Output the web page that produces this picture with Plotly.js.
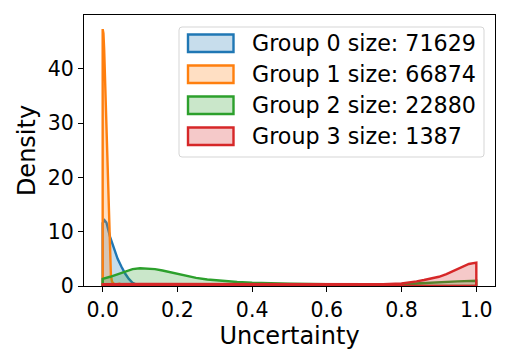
<!DOCTYPE html>
<html>
<head>
<meta charset="utf-8">
<script src="https://cdn.plot.ly/plotly-3.0.1.min.js"></script>
<style>
  html, body { margin: 0; padding: 0; background: #fff; }
  #chart { width: 509px; height: 360px; }
</style>
</head>
<body>
<div id="chart"></div>
<script>
// KDE of uncertainty per group
const groupNames = ['Group 0', 'Group 1', 'Group 2', 'Group 3'];
const groupSizes = [71629, 66874, 22880, 1387];
const groupColors = ['#1f77b4', '#ff7f0e', '#2ca02c', '#d62728'];

const x0 = [0, 0.005, 0.01, 0.02, 0.03, 0.04, 0.05, 0.06, 0.07, 0.08, 0.09, 0.1, 0.12, 0.15, 0.2];
const y0 = [11.6, 12.1, 11.7, 9.0, 6.8, 5.0, 3.6, 2.3, 1.3, 0.6, 0.25, 0.1, 0.03, 0.01, 0];

const x1 = [0, 0.002, 0.004, 0.006, 0.008, 0.01, 0.012, 0.014, 0.016, 0.018, 0.02, 0.022, 0.025,
            0.03, 0.035, 0.04, 0.045, 0.05, 0.055, 0.06, 0.07, 0.08];
const y1 = [47.3, 46.5, 43.5, 39.0, 33.5, 27.5, 22.0, 17.0, 12.0, 8.0, 4.5, 2.0, 0.8,
            0.4, 0.3, 0.4, 0.4, 0.3, 0.2, 0.1, 0.03, 0];

const x2 = [0, 0.02, 0.04, 0.06, 0.08, 0.1, 0.12, 0.14, 0.16, 0.18, 0.2, 0.22, 0.25, 0.28, 0.32,
            0.36, 0.4, 0.45, 0.5, 0.6, 0.7, 0.8, 0.85, 0.9, 0.95, 1.0];
const y2 = [1.3, 1.7, 2.2, 2.7, 3.1, 3.27, 3.25, 3.1, 2.85, 2.55, 2.15, 1.85, 1.5, 1.2, 0.95,
            0.75, 0.6, 0.5, 0.42, 0.35, 0.33, 0.38, 0.5, 0.7, 0.85, 0.95];

const x3 = [0, 0.1, 0.2, 0.3, 0.4, 0.5, 0.6, 0.7, 0.75, 0.8, 0.82, 0.84, 0.86, 0.88, 0.9,
            0.92, 0.94, 0.96, 0.98, 1.0];
const y3 = [0.35, 0.38, 0.38, 0.35, 0.32, 0.3, 0.3, 0.3, 0.33, 0.45, 0.6, 0.85, 1.1, 1.4, 1.7,
            2.2, 2.8, 3.5, 4.05, 4.3];

const seriesX = [x0, x1, x2, x3];
const seriesY = [y0, y1, y2, y3];

function rgba(hex, a) {
  const n = parseInt(hex.slice(1), 16);
  return `rgba(${(n >> 16) & 255},${(n >> 8) & 255},${n & 255},${a})`;
}

const FONT = 'DejaVu Sans, sans-serif';

// closed polygon like fill_between with an edge
const traces = seriesX.map((xs, i) => {
  const ys = seriesY[i];
  return {
    x: [xs[0], ...xs, xs[xs.length - 1], xs[0]],
    y: [0, ...ys, 0, 0],
    type: 'scatter',
    mode: 'lines',
    fill: 'toself',
    fillcolor: rgba(groupColors[i], 0.25),
    line: { color: groupColors[i], width: 2.4 },
    name: `${groupNames[i]} size: ${groupSizes[i]}`,
    hoverinfo: 'skip',
  };
});

// plot area in pixels
const M = { l: 84, r: 14, t: 15, b: 74 };
const W = 509, H = 360;
const PW = W - M.l - M.r, PH = H - M.t - M.b;
const px = p => (p - M.l) / PW;
const py = p => (H - M.b - p) / PH;

// hand-drawn legend to get matplotlib-style patches
const shapes = [];
const annotations = [];
{
  const bx0 = px(179), bx1 = px(484), by0 = py(157), by1 = py(27);
  const rx = 3 / PW, ry = 3 / PH;
  shapes.push({
    type: 'path', xref: 'paper', yref: 'paper',
    path: `M ${bx0 + rx},${by1} L ${bx1 - rx},${by1} Q ${bx1},${by1} ${bx1},${by1 - ry} ` +
          `L ${bx1},${by0 + ry} Q ${bx1},${by0} ${bx1 - rx},${by0} L ${bx0 + rx},${by0} ` +
          `Q ${bx0},${by0} ${bx0},${by0 + ry} L ${bx0},${by1 - ry} Q ${bx0},${by1} ${bx0 + rx},${by1} Z`,
    fillcolor: 'rgba(255,255,255,0.8)',
    line: { color: '#d5d5d5', width: 1 },
    layer: 'above',
  });
  groupNames.forEach((g, i) => {
    const top = 34.5 + i * 31, bot = 52 + i * 31;
    shapes.push({
      type: 'rect', xref: 'paper', yref: 'paper',
      x0: px(188), x1: px(233.5), y0: py(bot), y1: py(top),
      fillcolor: rgba(groupColors[i], 0.25),
      line: { color: groupColors[i], width: 2.4 },
      layer: 'above',
    });
    annotations.push({
      xref: 'paper', yref: 'paper',
      x: px(250), y: py((top + bot) / 2),
      xanchor: 'left', yanchor: 'middle',
      text: `${g} size: ${groupSizes[i]}`,
      showarrow: false,
      font: { family: FONT, size: 22.2, color: '#000' },
    });
  });
}

const axisBase = {
  showgrid: false,
  zeroline: false,
  showline: true,
  mirror: true,
  linecolor: '#000',
  linewidth: 1,
  ticks: 'outside',
  ticklen: 5,
  tickwidth: 1,
  tickcolor: '#000',
  tickfont: { family: FONT, size: 20.5, color: '#000' },
};

const layout = {
  width: W,
  height: H,
  margin: M,
  paper_bgcolor: '#fff',
  plot_bgcolor: '#fff',
  showlegend: false,
  xaxis: {
    ...axisBase,
    range: [-0.05, 1.05],
    tick0: 0,
    dtick: 0.2,
    tickformat: '.1f',
    title: { text: 'Uncertainty', font: { family: FONT, size: 24, color: '#000' }, standoff: 3 },
  },
  yaxis: {
    ...axisBase,
    range: [0, 49.9],
    tick0: 0,
    dtick: 10,
    title: { text: 'Density', font: { family: FONT, size: 24, color: '#000' }, standoff: 5 },
  },
  shapes,
  annotations,
};

Plotly.newPlot('chart', traces, layout, { displayModeBar: false, staticPlot: true });
</script>
</body>
</html>
